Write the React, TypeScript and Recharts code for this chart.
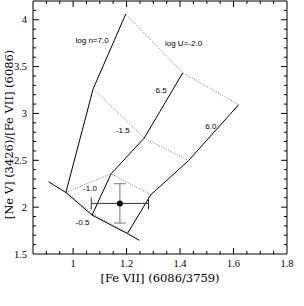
import { ComposedChart, Line, Scatter, XAxis, YAxis, ErrorBar, Label } from 'recharts'

// constant log n tracks (solid)
const n70 = [
  { x: 0.973, y: 2.156 },
  { x: 1.075, y: 3.263 },
  { x: 1.197, y: 4.061 },
]
const n65 = [
  { x: 1.071, y: 1.915 },
  { x: 1.142, y: 2.356 },
  { x: 1.266, y: 2.737 },
  { x: 1.41, y: 3.433 },
]
const n60 = [
  { x: 1.203, y: 1.718 },
  { x: 1.291, y: 2.133 },
  { x: 1.432, y: 2.497 },
  { x: 1.619, y: 3.093 },
]
// lower envelope (solid, extends past the grid)
const envelope = [
  { x: 0.908, y: 2.271 },
  { x: 0.973, y: 2.156 },
  { x: 1.071, y: 1.915 },
  { x: 1.203, y: 1.718 },
  { x: 1.248, y: 1.646 },
]
// constant log U tracks (dotted)
const u20 = [
  { x: 1.197, y: 4.061 },
  { x: 1.41, y: 3.433 },
  { x: 1.619, y: 3.093 },
]
const u15 = [
  { x: 1.075, y: 3.263 },
  { x: 1.266, y: 2.737 },
  { x: 1.432, y: 2.497 },
]
const u10 = [
  { x: 0.973, y: 2.156 },
  { x: 1.142, y: 2.356 },
  { x: 1.291, y: 2.133 },
]
const u05 = [
  { x: 0.975, y: 2.168 },
  { x: 1.073, y: 1.927 },
  { x: 1.203, y: 1.73 },
]

const observed = [{ x: 1.175, y: 2.04, ex: 0.107, ey: 0.21 }]

const gridLabels = [
  { x: 1.071, y: 3.777, text: 'log n=7.0' },
  { x: 1.413, y: 3.745, text: 'log U=-2.0' },
  { x: 1.329, y: 3.245, text: '6.5' },
  { x: 1.515, y: 2.862, text: '6.0' },
  { x: 1.186, y: 2.819, text: '-1.5' },
  { x: 1.063, y: 2.202, text: '-1.0' },
  { x: 1.035, y: 1.835, text: '-0.5' },
]

const xTicks = [0.9, 0.95, 1, 1.05, 1.1, 1.15, 1.2, 1.25, 1.3, 1.35, 1.4, 1.45, 1.5, 1.55, 1.6, 1.65, 1.7, 1.75]
const xMajor = [1, 1.2, 1.4, 1.6]
const yTicks = [1.6, 1.7, 1.8, 1.9, 2, 2.1, 2.2, 2.3, 2.4, 2.5, 2.6, 2.7, 2.8, 2.9, 3, 3.1, 3.2, 3.3, 3.4, 3.5, 3.6, 3.7, 3.8, 3.9, 4, 4.1]
const yMajor = [1.5, 2, 2.5, 3, 3.5, 4]
const xLabelTicks = [1, 1.2, 1.4, 1.6, 1.8]
const yLabelTicks = [1.5, 2, 2.5, 3, 3.5, 4]

const isMajor = (list: number[], v: number) => list.some((m) => Math.abs(m - v) < 1e-6)
const fmt = (v: number) => (Math.abs(v - Math.round(v)) < 1e-6 ? String(Math.round(v)) : v.toFixed(1))

const tickFont = { fontFamily: 'Liberation Serif', fontSize: 10.5, fill: '#000' }

const BottomTick = (props: any) => {
  const { x, y, payload } = props
  const v = payload.value
  const len = isMajor(xMajor, v) ? 6 : 3
  return (
    <g>
      {v > 0.86 && v < 1.79 && <line x1={x} x2={x} y1={y} y2={y - len} stroke="#000" />}
      {isMajor(xLabelTicks, v) && (
        <text x={x} y={y + 13} textAnchor="middle" {...tickFont}>
          {fmt(v)}
        </text>
      )}
    </g>
  )
}

const TopTick = (props: any) => {
  const { x, y, payload } = props
  const len = isMajor(xMajor, payload.value) ? 6 : 3
  return <line x1={x} x2={x} y1={y} y2={y + len} stroke="#000" />
}

const LeftTick = (props: any) => {
  const { x, y, payload } = props
  const v = payload.value
  const len = isMajor(yMajor, v) ? 6 : 3
  return (
    <g>
      {v > 1.55 && v < 4.15 && <line x1={x} x2={x + len} y1={y} y2={y} stroke="#000" />}
      {isMajor(yLabelTicks, v) && (
        <text x={x - 6} y={y} textAnchor="end" dominantBaseline="central" {...tickFont}>
          {fmt(v)}
        </text>
      )}
    </g>
  )
}

const RightTick = (props: any) => {
  const { x, y, payload } = props
  const len = isMajor(yMajor, payload.value) ? 6 : 3
  return <line x1={x} x2={x - len} y1={y} y2={y} stroke="#000" />
}

const GridText = (props: any) => {
  const { cx, cy, payload } = props
  return (
    <text x={cx} y={cy} textAnchor="middle" dominantBaseline="central" fontFamily="Liberation Sans" fontSize={8} fill="#000">
      {payload.text}
    </text>
  )
}

const Dot = (props: any) => <circle cx={props.cx} cy={props.cy} r={3} fill="#000" />

const titleFont = { fontFamily: 'DejaVu Serif', fontSize: 11.5, fill: '#000' }

export default function App() {
  const solid = { stroke: '#000', strokeWidth: 1, dot: false, isAnimationActive: false, type: 'linear' as const }
  const dotted = { stroke: '#777', strokeWidth: 1, strokeDasharray: '1 1.5', dot: false, isAnimationActive: false, type: 'linear' as const }
  return (
    <div style={{ position: 'absolute', left: 0, top: 0 }}>
      <ComposedChart width={304} height={306} margin={{ top: 0, right: 16, bottom: 0, left: 0 }}>
        <XAxis
          type="number"
          dataKey="x"
          domain={[0.85, 1.8]}
          allowDataOverflow
          ticks={[...xTicks, 1.8]}
          interval={0}
          height={52}
          tickSize={0}
          tickMargin={0}
          tickLine={false}
          tick={BottomTick}
          axisLine={{ stroke: '#000' }}
        >
          <Label
            content={(p: any) => {
              const vb = p.viewBox
              return (
                <text x={vb.x + vb.width / 2} y={vb.y + 28} textAnchor="middle" {...titleFont}>
                  [Fe VII] (6086/3759)
                </text>
              )
            }}
          />
        </XAxis>
        <XAxis
          xAxisId="top"
          orientation="top"
          type="number"
          dataKey="x"
          domain={[0.85, 1.8]}
          allowDataOverflow
          ticks={xTicks}
          interval={0}
          height={1}
          tickSize={0}
          tickMargin={0}
          tickLine={false}
          tick={TopTick}
          axisLine={{ stroke: '#000' }}
        />
        <YAxis
          type="number"
          dataKey="y"
          domain={[1.5, 4.2]}
          allowDataOverflow
          ticks={[1.5, ...yTicks]}
          interval={0}
          width={33}
          tickSize={0}
          tickMargin={0}
          tickLine={false}
          tick={LeftTick}
          axisLine={{ stroke: '#000' }}
        >
          <Label
            content={(p: any) => {
              const vb = p.viewBox
              const cx = vb.x + 9
              const cy = vb.y + vb.height / 2 + 7
              return (
                <text x={cx} y={cy} textAnchor="middle" dominantBaseline="central" transform={`rotate(-90 ${cx} ${cy})`} {...titleFont}>
                  [Ne V] (3426)/[Fe VII] (6086)
                </text>
              )
            }}
          />
        </YAxis>
        <YAxis
          yAxisId="right"
          orientation="right"
          type="number"
          dataKey="y"
          domain={[1.5, 4.2]}
          allowDataOverflow
          ticks={yTicks}
          interval={0}
          width={1}
          tickSize={0}
          tickMargin={0}
          tickLine={false}
          tick={RightTick}
          axisLine={{ stroke: '#000' }}
        />

        <Line data={u20} dataKey="y" {...dotted} />
        <Line data={u15} dataKey="y" {...dotted} />
        <Line data={u10} dataKey="y" {...dotted} />
        <Line data={u05} dataKey="y" {...dotted} />
        <Line data={n70} dataKey="y" {...solid} />
        <Line data={n65} dataKey="y" {...solid} />
        <Line data={n60} dataKey="y" {...solid} />
        <Line data={envelope} dataKey="y" {...solid} />

        <Scatter data={gridLabels} dataKey="y" shape={GridText} isAnimationActive={false} />

        <Scatter data={observed} dataKey="y" shape={Dot} isAnimationActive={false}>
          <ErrorBar dataKey="ex" direction="x" width={6} stroke="#333" strokeWidth={1} isAnimationActive={false} />
          <ErrorBar dataKey="ey" direction="y" width={6} stroke="#777" strokeWidth={1} isAnimationActive={false} />
        </Scatter>
      </ComposedChart>
    </div>
  )
}
